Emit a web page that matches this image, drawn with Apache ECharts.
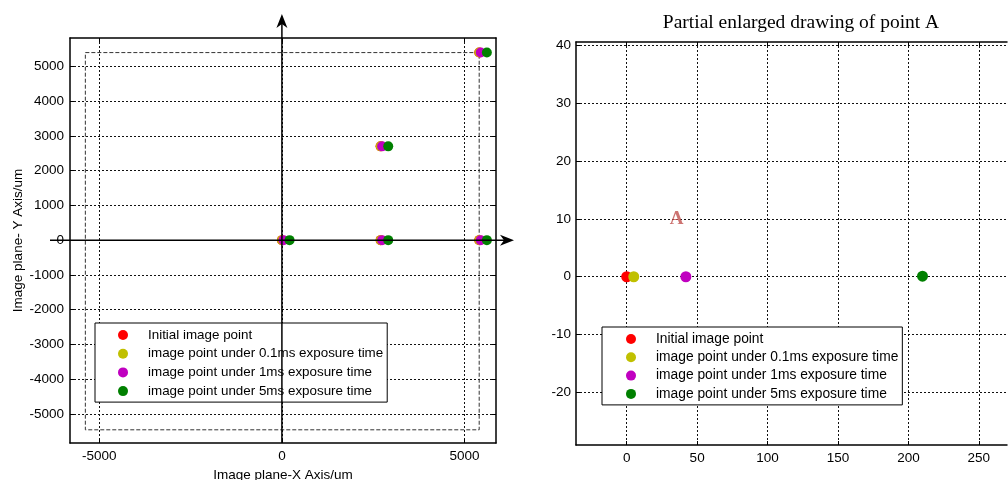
<!DOCTYPE html>
<html>
<head>
<meta charset="utf-8">
<script src="https://cdn.jsdelivr.net/npm/echarts@6/dist/echarts.min.js"></script>
<style>
html,body{margin:0;padding:0;background:#fff;}
#main{width:1008px;height:480px;}
</style>
</head>
<body>
<div id="main"></div>
<script>
// ---------- data ----------
const seriesNames = [
  'Initial image point',
  'image point under 0.1ms exposure time',
  'image point under 1ms exposure time',
  'image point under 5ms exposure time'
];
// full image plane (um)
const initialX = [0, 2700, 5400, 2700, 5400];
const initialY = [0, 0, 0, 2700, 5400];
const exp01X   = [5, 2705, 5405, 2705, 5405];
const exp01Y   = [0, 0, 0, 2700, 5400];
const exp1X    = [42, 2742, 5442, 2742, 5442];
const exp1Y    = [0, 0, 0, 2700, 5400];
const exp5X    = [210, 2910, 5610, 2910, 5610];
const exp5Y    = [0, 0, 0, 2700, 5400];
// sensor boundary (dashed rectangle)
const boundaryX = [-5380, 5400, 5400, -5380, -5380];
const boundaryY = [5400, 5400, -5460, -5460, 5400];
// enlarged point A (um)
const pointAX = [0, 5, 42, 210];
const pointAY = [0, 0, 0, 0.1];
const labelAPos = [35.5, 10.0];
// ticks
const leftXTicks = [-5000, 0, 5000];
const leftYTicks = [-5000, -4000, -3000, -2000, -1000, 0, 1000, 2000, 3000, 4000, 5000];
const rightXTicks = [0, 50, 100, 150, 200, 250];
const rightYTicks = [-20, -10, 0, 10, 20, 30, 40];
const leftRange = {xMin: -5800, xMax: 5860, yMin: -5840, yMax: 5820};
const rightRange = {xMin: -36, xMax: 270, yMin: -29.1, yMax: 40.6};

// ---------- styles ----------
const colors = ['#ff0000', '#c0c000', '#c000c0', '#008000'];
const sans = 'Liberation Sans, Arial, sans-serif';
const serif = 'Liberation Serif, Times New Roman, serif';

function zip(xs, ys) { return xs.map((x, i) => [x, ys[i]]); }
const plain = v => String(v);

const gridLine = {show: true, lineStyle: {color: '#111', type: [2, 2], width: 1}};
function mainAxis(range, ticks, isX, extra) {
  return Object.assign({
    type: 'value',
    min: isX ? range.xMin : range.yMin,
    max: isX ? range.xMax : range.yMax,
    axisLine: {show: true, onZero: false, lineStyle: {color: '#000', width: 1.5}},
    axisTick: {show: true, inside: true, length: 4, customValues: ticks, lineStyle: {color: '#000'}},
    axisLabel: {show: true, customValues: ticks, formatter: plain, color: '#000', fontFamily: sans, fontSize: 13.5, margin: 6},
    splitLine: gridLine
  }, extra);
}
function tickAxis(range, ticks, isX, gridIndex, position) {
  return {
    type: 'value', gridIndex: gridIndex, position: position,
    min: isX ? range.xMin : range.yMin,
    max: isX ? range.xMax : range.yMax,
    axisLine: {show: true, onZero: false, lineStyle: {color: '#000', width: 1.5}},
    axisTick: {show: true, inside: true, length: 4, customValues: ticks, lineStyle: {color: '#000'}},
    axisLabel: {show: false},
    splitLine: {show: false}
  };
}

const xAxes = [
  mainAxis(leftRange, leftXTicks, true, {gridIndex: 0, position: 'bottom',
    name: 'Image plane-X Axis/um', nameLocation: 'middle', nameGap: 19,
    nameTextStyle: {color: '#000', fontFamily: sans, fontSize: 13.5}}),
  tickAxis(leftRange, leftXTicks, true, 0, 'top'),
  mainAxis(rightRange, rightXTicks, true, {gridIndex: 1, position: 'bottom'}),
  tickAxis(rightRange, rightXTicks, true, 1, 'top')
];
const yAxes = [
  mainAxis(leftRange, leftYTicks, false, {gridIndex: 0, position: 'left',
    name: 'Image plane- Y Axis/um', nameLocation: 'middle', nameGap: 44,
    nameTextStyle: {color: '#000', fontFamily: sans, fontSize: 13.5}}),
  tickAxis(leftRange, leftYTicks, false, 0, 'right'),
  mainAxis(rightRange, rightYTicks, false, {gridIndex: 1, position: 'left',
    axisLabel: {show: true, customValues: rightYTicks, formatter: plain, color: '#000', fontFamily: sans, fontSize: 13.5, margin: 5}})
];

const leftSets = [zip(initialX, initialY), zip(exp01X, exp01Y), zip(exp1X, exp1Y), zip(exp5X, exp5Y)];
const series = [];
series.push({
  type: 'line', name: 'boundary', xAxisIndex: 0, yAxisIndex: 0,
  data: zip(boundaryX, boundaryY), showSymbol: false, symbol: 'none', silent: true,
  lineStyle: {color: '#333', width: 1, type: [4, 2]}, z: 1
});
seriesNames.forEach((n, i) => {
  series.push({
    type: 'scatter', name: n, xAxisIndex: 0, yAxisIndex: 0,
    data: leftSets[i], symbol: 'circle', symbolSize: 10,
    itemStyle: {color: colors[i], opacity: 1}, z: 3 + i
  });
});
seriesNames.forEach((n, i) => {
  series.push({
    type: 'scatter', name: n, xAxisIndex: 2, yAxisIndex: 2,
    data: [[pointAX[i], pointAY[i]]], symbol: 'circle', symbolSize: 11,
    itemStyle: {color: colors[i], opacity: 1}, z: 3 + i
  });
});
series.push({
  type: 'scatter', name: 'A', xAxisIndex: 2, yAxisIndex: 2, silent: true,
  data: [labelAPos], symbolSize: 1, itemStyle: {color: 'rgba(0,0,0,0)'},
  label: {show: true, position: 'inside', formatter: 'A', color: '#c0504d',
    fontFamily: serif, fontWeight: 'bold', fontSize: 19}
});

function legendCfg(left, top, padLeft, gap, font) {
  return {
    orient: 'vertical', left: left, top: top,
    data: seriesNames, icon: 'circle', itemWidth: 40, itemHeight: 10,
    itemGap: gap, padding: [5, 4, 4, padLeft],
    borderColor: '#000', borderWidth: 1, backgroundColor: '#fff',
    selectedMode: false,
    textStyle: {color: '#000', fontFamily: sans, fontSize: font, lineHeight: 14}
  };
}

const option = {
  animation: false,
  backgroundColor: '#fff',
  title: {
    text: 'Partial enlarged drawing of point A', left: 801, top: 13, textAlign: 'center', padding: 0,
    textStyle: {color: '#000', fontFamily: serif, fontWeight: 'normal', fontSize: 19.5}
  },
  grid: [
    {left: 70, top: 38, width: 426, height: 405, show: false, outerBoundsMode: 'none', containLabel: false},
    {left: 576, top: 42, width: 431, height: 403, show: false, outerBoundsMode: 'none', containLabel: false}
  ],
  legend: [
    legendCfg(95, 323, 23, 4.7, 13.4),
    legendCfg(602, 327, 24, 4.3, 13.8)
  ],
  xAxis: xAxes,
  yAxis: yAxes,
  series: series
};

const chart = echarts.init(document.getElementById('main'), null, {renderer: 'canvas'});
chart.setOption(option);

// axis arrows through the origin of the left plot
const origin = chart.convertToPixel({xAxisIndex: 0, yAxisIndex: 0}, [0, 0]);
const bottom = chart.convertToPixel({xAxisIndex: 0, yAxisIndex: 0}, [0, leftRange.yMin]);
const ox = origin[0], oy = origin[1];
const topTip = 14, rightTip = 514, leftStart = 50;
chart.setOption({
  graphic: [
    {type: 'line', z: 100, shape: {x1: ox, y1: bottom[1], x2: ox, y2: topTip + 6}, style: {stroke: '#000', lineWidth: 1.5}},
    {type: 'polygon', z: 100, shape: {points: [[ox, topTip], [ox + 5.5, topTip + 14], [ox, topTip + 10], [ox - 5.5, topTip + 14]]}, style: {fill: '#000'}},
    {type: 'line', z: 100, shape: {x1: leftStart, y1: oy, x2: rightTip - 6, y2: oy}, style: {stroke: '#000', lineWidth: 1.5}},
    {type: 'polygon', z: 100, shape: {points: [[rightTip, oy], [rightTip - 14, oy - 5.5], [rightTip - 10, oy], [rightTip - 14, oy + 5.5]]}, style: {fill: '#000'}}
  ]
});
</script>
</body>
</html>
